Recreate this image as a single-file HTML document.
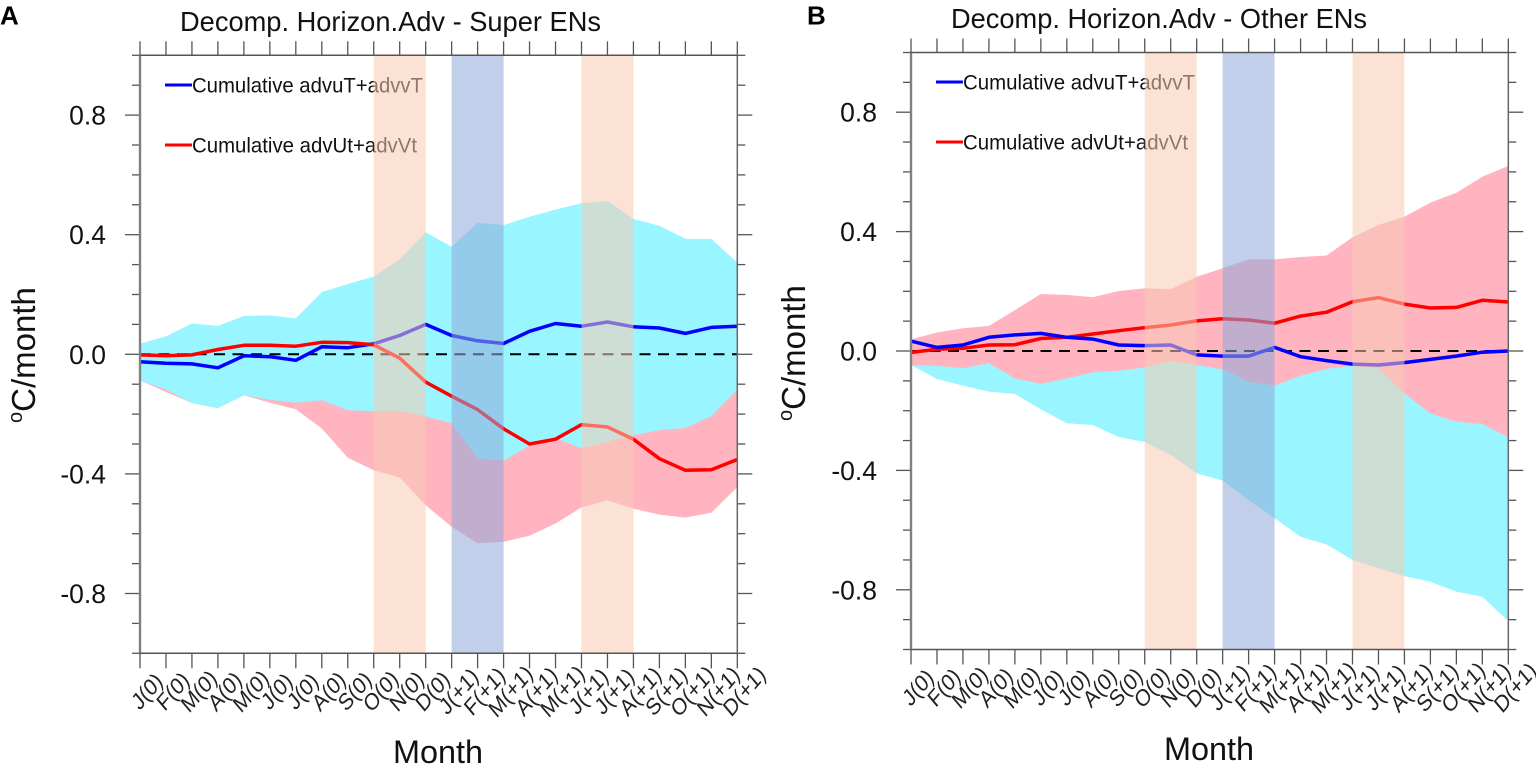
<!DOCTYPE html>
<html lang="en">
<head>
<meta charset="utf-8">
<title>Decomposed horizontal advection</title>
<style>
html,body{margin:0;padding:0;background:#fff;width:1536px;height:766px;overflow:hidden}
svg{display:block;font-family:"Liberation Sans",sans-serif}
text{fill:#111}
</style>
</head>
<body>
<svg id="figure" width="1536" height="766" viewBox="0 0 1536 766" xmlns="http://www.w3.org/2000/svg">
  <rect width="1536" height="766" fill="#fff"/>
  <g id="panel-a">
    <text x="0" y="24.5" font-size="26" font-weight="bold" style="fill:#000">A</text>
    <text x="180" y="31" font-size="27.5" textLength="421" lengthAdjust="spacingAndGlyphs">Decomp. Horizon.Adv - Super ENs</text>
    <g id="a-plot"></g>
    <text transform="translate(35,423) rotate(-90)" font-size="33"><tspan font-size="20" dy="-13">o</tspan><tspan dy="13">C/month</tspan></text>
    <text x="438" y="763" font-size="32.4" text-anchor="middle">Month</text>
  </g>
  <g id="panel-b">
    <text x="807" y="24.5" font-size="26" font-weight="bold" style="fill:#000">B</text>
    <text x="951" y="28" font-size="27.5" textLength="416" lengthAdjust="spacingAndGlyphs">Decomp. Horizon.Adv - Other ENs</text>
    <g id="b-plot"></g>
    <text transform="translate(805,421) rotate(-90)" font-size="33"><tspan font-size="20" dy="-13">o</tspan><tspan dy="13">C/month</tspan></text>
    <text x="1209" y="760" font-size="32.4" text-anchor="middle">Month</text>
  </g>
</svg>
<script>
var months = ["J(0)","F(0)","M(0)","A(0)","M(0)","J(0)","J(0)","A(0)","S(0)","O(0)","N(0)","D(0)","J(+1)","F(+1)","M(+1)","A(+1)","M(+1)","J(+1)","J(+1)","A(+1)","S(+1)","O(+1)","N(+1)","D(+1)"];
var yTickValues = [0.8,0.4,0,-0.4,-0.8];
var yTickLabels = ["0.8","0.4","0.0","-0.4","-0.8"];
var warmPeriods = [[9,11],[17,19]];
var coolPeriods = [[12,14]];

var aBlue = [-0.025,-0.03,-0.032,-0.045,-0.005,-0.008,-0.02,0.025,0.022,0.035,0.063,0.10,0.063,0.045,0.036,0.077,0.103,0.094,0.108,0.092,0.088,0.07,0.09,0.094];
var aRed = [-0.002,-0.005,-0.002,0.016,0.03,0.03,0.027,0.04,0.039,0.032,-0.013,-0.093,-0.14,-0.185,-0.249,-0.30,-0.284,-0.235,-0.243,-0.284,-0.349,-0.388,-0.386,-0.352];
var aCyanUpper = [0.035,0.06,0.103,0.095,0.128,0.13,0.12,0.208,0.235,0.26,0.317,0.408,0.36,0.44,0.432,0.46,0.484,0.505,0.513,0.453,0.43,0.386,0.386,0.307];
var aCyanLower = [-0.087,-0.118,-0.163,-0.18,-0.137,-0.152,-0.162,-0.154,-0.187,-0.19,-0.19,-0.208,-0.23,-0.347,-0.356,-0.306,-0.28,-0.315,-0.293,-0.27,-0.254,-0.246,-0.207,-0.118];
var aPinkUpper = [0.03,0.05,0.06,0.08,0.09,0.1,0.08,0.06,0.05,0.04,0.02,-0.01,-0.02,-0.03,-0.08,-0.1,-0.12,-0.1,-0.1,-0.1,-0.12,-0.14,-0.15,-0.1];
var aPinkLower = [-0.087,-0.126,-0.163,-0.18,-0.137,-0.162,-0.184,-0.248,-0.346,-0.388,-0.412,-0.505,-0.577,-0.632,-0.627,-0.607,-0.566,-0.512,-0.488,-0.516,-0.536,-0.546,-0.53,-0.444];

var bBlue = [0.033,0.012,0.02,0.046,0.054,0.059,0.046,0.04,0.02,0.018,0.02,-0.013,-0.017,-0.017,0.012,-0.019,-0.032,-0.044,-0.047,-0.039,-0.028,-0.017,-0.004,0.0];
var bRed = [-0.005,0.006,0.009,0.02,0.021,0.042,0.046,0.057,0.068,0.078,0.087,0.101,0.108,0.104,0.093,0.117,0.13,0.165,0.179,0.157,0.144,0.146,0.17,0.164];
var bCyanUpper = [0.02,0.03,0.04,0.06,0.1,0.12,0.12,0.12,0.12,0.12,0.12,0.14,0.15,0.16,0.16,0.16,0.15,0.14,0.12,0.1,0.1,0.1,0.12,0.14];
var bCyanLower = [-0.047,-0.094,-0.116,-0.136,-0.144,-0.195,-0.242,-0.248,-0.288,-0.305,-0.348,-0.41,-0.434,-0.5,-0.56,-0.622,-0.648,-0.70,-0.728,-0.754,-0.773,-0.806,-0.823,-0.905];
var bPinkUpper = [0.039,0.062,0.076,0.084,0.137,0.191,0.188,0.18,0.201,0.21,0.207,0.249,0.277,0.307,0.307,0.315,0.32,0.381,0.422,0.45,0.497,0.53,0.584,0.62];
var bPinkLower = [-0.047,-0.05,-0.058,-0.041,-0.092,-0.11,-0.092,-0.071,-0.066,-0.055,-0.033,-0.047,-0.061,-0.103,-0.116,-0.083,-0.06,-0.05,-0.058,-0.142,-0.209,-0.237,-0.245,-0.289];

var NS = "http://www.w3.org/2000/svg";
function make(parent, tag, attrs, txt) {
  var el = document.createElementNS(NS, tag);
  for (var k in attrs) el.setAttribute(k, attrs[k]);
  if (txt !== undefined) el.textContent = txt;
  parent.appendChild(el);
  return el;
}
function tag(el, name) {
  
  
  return el;
}
function linePath(series, xf, yf) {
  return series.map(function (v, i) { return (i ? "L" : "M") + xf(i).toFixed(1) + " " + yf(v).toFixed(1); }).join("");
}
function bandPath(upper, lower, xf, yf) {
  var d = linePath(upper, xf, yf);
  for (var i = lower.length - 1; i >= 0; i--) d += "L" + xf(i).toFixed(1) + " " + yf(lower[i]).toFixed(1);
  return d + "Z";
}
function drawPanel(g, o) {
  var xf = function (i) { return o.x0 + i * o.dx; };
  var yf = function (v) { return o.y0 - v * o.ky; };
  var right = xf(months.length - 1), top = yf(1), bottom = yf(-1);
  var bands = [
    {d: bandPath(o.pinkU, o.pinkL, xf, yf), c: "#ffb4c0", n: "pink-uncertainty-band"},
    {d: bandPath(o.cyanU, o.cyanL, xf, yf), c: "#99f5ff", n: "cyan-uncertainty-band"}
  ];
  if (o.pinkOnTop) bands.reverse();
  bands.forEach(function (b) {
    var el = make(g, "path", {d: b.d, fill: b.c});
    tag(el, b.n);
  });
  var zero = make(g, "line", {x1: o.x0, x2: right, y1: yf(0), y2: yf(0), stroke: "#000", "stroke-width": 2, "stroke-dasharray": "11 7.5"});
  tag(zero, "zero-reference-line");
  var lines = [
    {s: o.blue, c: "#0000ff", n: "cumulative-advut-advvt-line"},
    {s: o.red, c: "#ff0000", n: "cumulative-advut-advvt-anomaly-line"}
  ];
  if (o.blueOnTop) lines.reverse();
  lines.forEach(function (l) {
    var el = make(g, "path", {d: linePath(l.s, xf, yf), fill: "none", stroke: l.c, "stroke-width": 3.5, "stroke-linejoin": "round"});
    tag(el, l.n);
  });
  var lx = o.x0 + 25, tx = lx + 27;
  var legA = make(g, "line", {x1: lx, x2: tx, y1: o.legY1, y2: o.legY1, stroke: "#0000ff", "stroke-width": 3});
  tag(legA, "legend-line-blue");
  var legAT = make(g, "text", {x: tx, y: o.legY1 + 7.5, "font-size": 21, textLength: o.legW1, lengthAdjust: "spacingAndGlyphs"}, "Cumulative advuT+advvT");
  tag(legAT, "legend-label-blue");
  var legB = make(g, "line", {x1: lx, x2: tx, y1: o.legY2, y2: o.legY2, stroke: "#ff0000", "stroke-width": 3});
  tag(legB, "legend-line-red");
  var legBT = make(g, "text", {x: tx, y: o.legY2 + 7.5, "font-size": 21, textLength: o.legW2, lengthAdjust: "spacingAndGlyphs"}, "Cumulative advUt+advVt");
  tag(legBT, "legend-label-red");
  warmPeriods.forEach(function (p) {
    var el = make(g, "rect", {x: xf(p[0]), y: top, width: xf(p[1]) - xf(p[0]), height: bottom - top, fill: "rgb(248,202,179)", "fill-opacity": 0.55});
    tag(el, "warm-season-shading");
  });
  coolPeriods.forEach(function (p) {
    var el = make(g, "rect", {x: xf(p[0]), y: top, width: xf(p[1]) - xf(p[0]), height: bottom - top, fill: "rgb(144,169,218)", "fill-opacity": 0.56});
    tag(el, "cool-season-shading");
  });
  var tickColor = "#555";
  months.forEach(function (m, i) {
    var x = xf(i);
    var t1 = make(g, "line", {x1: x, x2: x, y1: top - 14, y2: top, stroke: tickColor, "stroke-width": 1.3});
    tag(t1, "x-top-tick");
    var t2 = make(g, "line", {x1: x, x2: x, y1: bottom, y2: bottom + 15, stroke: tickColor, "stroke-width": 1.3});
    tag(t2, "x-bottom-tick");
    var cx = x + 7, cy = bottom + 38;
    var lab = make(g, "text", {x: 0, y: 7, "font-size": 21, "text-anchor": "middle", transform: "translate(" + cx + " " + cy + ") scale(0.95 1.12) rotate(-45)", style: "fill:#222"}, m);
    tag(lab, "x-tick-label");
  });
  for (var n = -10; n <= 10; n++) {
    var y = yf(n / 10), major = (n % 2 === 0 && Math.abs(n) % 4 === 0 && Math.abs(n) < 10);
    var len = major ? 15 : 8;
    var tl = make(g, "line", {x1: o.x0 - len, x2: o.x0, y1: y, y2: y, stroke: tickColor, "stroke-width": 1.3});
    tag(tl, "y-left-tick");
    var tr = make(g, "line", {x1: right, x2: right + len, y1: y, y2: y, stroke: tickColor, "stroke-width": 1.3});
    tag(tr, "y-right-tick");
  }
  yTickValues.forEach(function (v, i) {
    var lab = make(g, "text", {x: o.x0 - 34, y: yf(v) + 9.5, "font-size": 26.5, "text-anchor": "end"}, yTickLabels[i]);
    tag(lab, "y-tick-label");
  });
  var sl = make(g, "line", {x1: o.x0, x2: o.x0, y1: top, y2: bottom, stroke: "#808080", "stroke-width": 2.4});
  tag(sl, "left-spine");
  var sr = make(g, "line", {x1: right, x2: right, y1: top, y2: bottom, stroke: "#666", "stroke-width": 1.5});
  tag(sr, "right-spine");
  var st = make(g, "line", {x1: o.x0, x2: right, y1: top, y2: top, stroke: "#555", "stroke-width": 1.5});
  tag(st, "top-spine");
  var sb = make(g, "line", {x1: o.x0, x2: right, y1: bottom, y2: bottom, stroke: "#555", "stroke-width": 1.5});
  tag(sb, "bottom-spine");
}
drawPanel(document.getElementById("a-plot"), {
  x0: 140, y0: 354.3, dx: 25.97, ky: 299,
  blue: aBlue, red: aRed, cyanU: aCyanUpper, cyanL: aCyanLower, pinkU: aPinkUpper, pinkL: aPinkLower,
  pinkOnTop: false, blueOnTop: false, legY1: 85, legY2: 145, legW1: 231, legW2: 225
});
drawPanel(document.getElementById("b-plot"), {
  x0: 911, y0: 351, dx: 25.97, ky: 298.5,
  blue: bBlue, red: bRed, cyanU: bCyanUpper, cyanL: bCyanLower, pinkU: bPinkUpper, pinkL: bPinkLower,
  pinkOnTop: true, blueOnTop: true, legY1: 82, legY2: 142, legW1: 232, legW2: 225
});
</script>
</body>
</html>
